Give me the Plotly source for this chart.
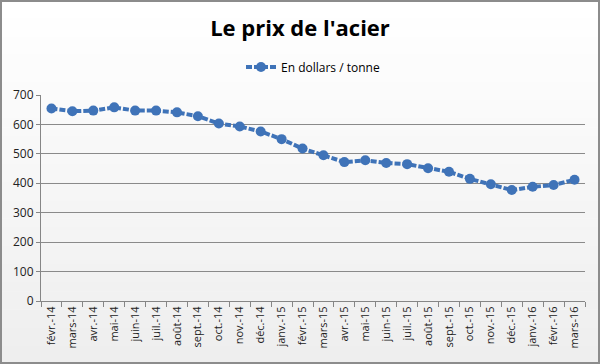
import plotly.graph_objects as go

months = ["févr.-14", "mars-14", "avr.-14", "mai-14", "juin-14", "juil.-14", "août-14",
          "sept.-14", "oct.-14", "nov.-14", "déc.-14", "janv.-15", "févr.-15", "mars-15",
          "avr.-15", "mai-15", "juin-15", "juil.-15", "août-15", "sept.-15", "oct.-15",
          "nov.-15", "déc.-15", "janv.-16", "févr.-16", "mars-16"]
prix = [654, 645, 647, 658, 647, 647, 641, 628, 603, 593, 576, 550, 518, 495,
        472, 478, 469, 465, 451, 439, 415, 397, 377, 388, 394, 412]
y_ticks = [0, 100, 200, 300, 400, 500, 600, 700]

W, H = 600, 364
ml, mr, mt, mb = 41, 15, 95, 63
pw, ph = W - ml - mr, H - mt - mb

FONT = "Open Sans"

fig = go.Figure()
fig.add_trace(go.Scatter(
    x=months, y=prix, mode="lines+markers", name="En dollars / tonne",
    line=dict(color="#3f73b8", width=4, dash="6px,2px"),
    marker=dict(color="#3f73b8", size=10),
))

shapes = []
# background gradient (white top to light gray bottom)
n = 40
for i in range(n):
    t = i / (n - 1)
    c = int(round(255 - 17 * t))
    y1 = 1 + mt / ph - i * (H / n) / ph
    y0 = y1 - (H / n) / ph - 0.002
    shapes.append(dict(type="rect", xref="paper", yref="paper",
                       x0=-ml / pw, x1=1 + mr / pw, y0=y0, y1=y1,
                       fillcolor=f"rgb({c},{c},{c})", line=dict(width=0), layer="below"))
# outer border
shapes.append(dict(type="rect", xref="paper", yref="paper",
                   x0=-ml / pw + 1 / pw, x1=1 + mr / pw - 1 / pw,
                   y0=-mb / ph + 1 / ph, y1=1 + mt / ph - 1 / ph,
                   line=dict(color="#8c8c8c", width=2), layer="above"))

fig.update_layout(
    width=W, height=H,
    margin=dict(l=ml, r=mr, t=mt, b=mb, autoexpand=False),
    paper_bgcolor="white",
    plot_bgcolor="rgba(0,0,0,0)",
    font=dict(family=FONT, color="#222222"),
    title=dict(text="<b>Le prix de l'acier</b>", x=0.5, xanchor="center",
               y=1 - 28 / H, yanchor="middle", font=dict(size=22, color="black", family=FONT)),
    showlegend=True,
    legend=dict(orientation="h", x=0.5, xanchor="center", y=1 + (95 - 67) / ph, yanchor="middle",
                font=dict(size=12, color="black"), bgcolor="rgba(0,0,0,0)", itemwidth=30),
    shapes=shapes,
    xaxis=dict(type="category", tickson="boundaries", ticks="outside", ticklen=5,
               tickcolor="#868686", showline=True, linecolor="#868686", linewidth=1,
               showgrid=False, tickangle=-90, tickfont=dict(size=11, color="#222222"),
               range=[-0.5, len(months) - 0.5], automargin=False),
    yaxis=dict(range=[0, 700], tickvals=y_ticks, ticks="outside", ticklen=4,
               tickcolor="#868686", showline=True, linecolor="#868686", linewidth=1,
               showgrid=True, gridcolor="#8a8a8a", gridwidth=1, zeroline=False,
               tickfont=dict(size=12, color="#222222"), automargin=False),
)

fig.write_html("out.html", config={"displayModeBar": False},
               post_script="document.body.style.margin='0';")
